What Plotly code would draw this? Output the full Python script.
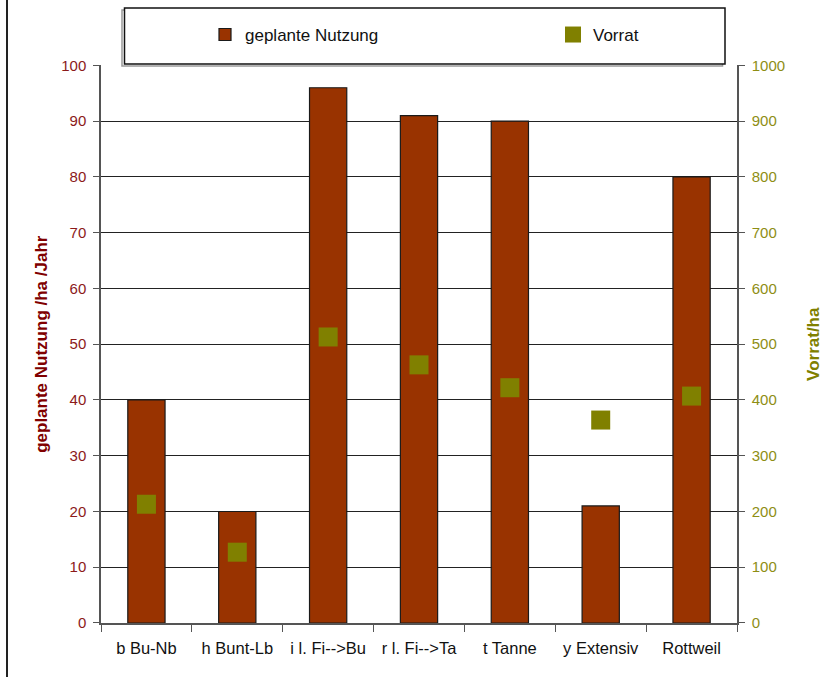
import plotly.graph_objects as go

# Forest districts / treatment classes
categories = ["b Bu-Nb", "h Bunt-Lb", "i l. Fi-->Bu", "r l. Fi-->Ta", "t Tanne", "y Extensiv", "Rottweil"]
# planned harvest per ha and year
nutzung = [40, 20, 96, 91, 90, 21, 80]
# standing stock per ha
vorrat = [213, 127, 513, 463, 422, 364, 407]

left_ticks = list(range(0, 101, 10))
right_ticks = list(range(0, 1001, 100))

BAR = "#993300"
OLIVE = "#808000"
RED_TXT = "#8b1a1a"
OLIVE_TXT = "#8e8e14"
FONT = "Liberation Sans, Arial, sans-serif"

W, H = 829, 677
M_L, M_R, M_B = 101, 92, 53.5
PLOT_TOP = 65.5                      # px from top where the plot area starts
PAPER_H = H - M_B                    # paper spans from the top edge to the bottom margin


def py(px):
    """Convert a pixel row (from the top) to a paper y fraction."""
    return (PAPER_H - px) / PAPER_H


def px_x(px):
    """Convert a pixel column to a paper x fraction."""
    return (px - M_L) / (W - M_L - M_R)


fig = go.Figure()

fig.add_trace(go.Bar(
    x=categories, y=nutzung, name="geplante Nutzung",
    marker=dict(color=BAR, line=dict(color="#1a1a1a", width=1.2)),
    yaxis="y", legend="legend",
))
fig.add_trace(go.Scatter(
    x=categories, y=vorrat, name="Vorrat", mode="markers",
    marker=dict(symbol="square", size=19, color=OLIVE, line=dict(width=0)),
    yaxis="y2", legend="legend2",
))

legend_common = dict(
    orientation="h", xanchor="left", y=py(35), yanchor="middle",
    bgcolor="rgba(0,0,0,0)", borderwidth=0,
    font=dict(family=FONT, size=17, color="#111"),
    itemclick=False,
)

fig.update_layout(
    width=W, height=H,
    margin=dict(l=M_L, r=M_R, t=0, b=M_B, pad=0),
    paper_bgcolor="white", plot_bgcolor="white",
    font=dict(family=FONT, size=15, color="black"),
    bargap=0.59,
    showlegend=True,
    legend=dict(x=px_x(205), **legend_common),
    legend2=dict(x=px_x(553), **legend_common),
    xaxis=dict(
        type="category", automargin=False, showline=True, linecolor="#555", linewidth=1.5,
        ticks="outside", tickson="boundaries", ticklen=7, tickcolor="#555", tickwidth=1,
        showgrid=False, tickfont=dict(family=FONT, size=16.5, color="#111"),
        ticklabelstandoff=9, zeroline=False,
    ),
    yaxis=dict(
        domain=[0, py(PLOT_TOP)], automargin=False,
        range=[0, 100], tickvals=left_ticks, showline=True, linecolor="#555", linewidth=1.5,
        ticks="outside", ticklen=6, tickcolor="#555", tickwidth=1,
        showgrid=True, gridcolor="#222", gridwidth=1.2, zeroline=False,
        tickfont=dict(family=FONT, size=15, color=RED_TXT),
        ticklabelstandoff=4,
        title=dict(text="<b>geplante Nutzung /ha /Jahr</b>", font=dict(family=FONT, size=17, color="#800000"), standoff=9),
    ),
    yaxis2=dict(
        automargin=False,
        range=[0, 1000], tickvals=right_ticks, overlaying="y", side="right",
        showline=True, linecolor="#555", linewidth=1.5,
        ticks="outside", ticklen=6, tickcolor="#555", tickwidth=1,
        showgrid=False, zeroline=False,
        tickfont=dict(family=FONT, size=15, color=OLIVE_TXT),
        ticklabelstandoff=4,
        title=dict(text="<b>Vorrat/ha</b>", font=dict(family=FONT, size=17, color=OLIVE), standoff=23),
    ),
    shapes=[
        # outer frame edge on the left
        dict(type="line", xref="paper", yref="paper", x0=px_x(7), x1=px_x(7), y0=-0.2, y1=1.2,
             line=dict(color="#222", width=2)),
        # legend box shadow and frame
        dict(type="rect", xref="paper", yref="paper", x0=px_x(122), x1=px_x(722.5), y0=py(66), y1=py(10),
             line=dict(color="#999", width=1.5), fillcolor="rgba(0,0,0,0)", layer="above"),
        dict(type="rect", xref="paper", yref="paper", x0=px_x(124.5), x1=px_x(725), y0=py(64), y1=py(8),
             line=dict(color="#111", width=1.5), fillcolor="white", layer="above"),
    ],
)

fig.write_html("out.html")
